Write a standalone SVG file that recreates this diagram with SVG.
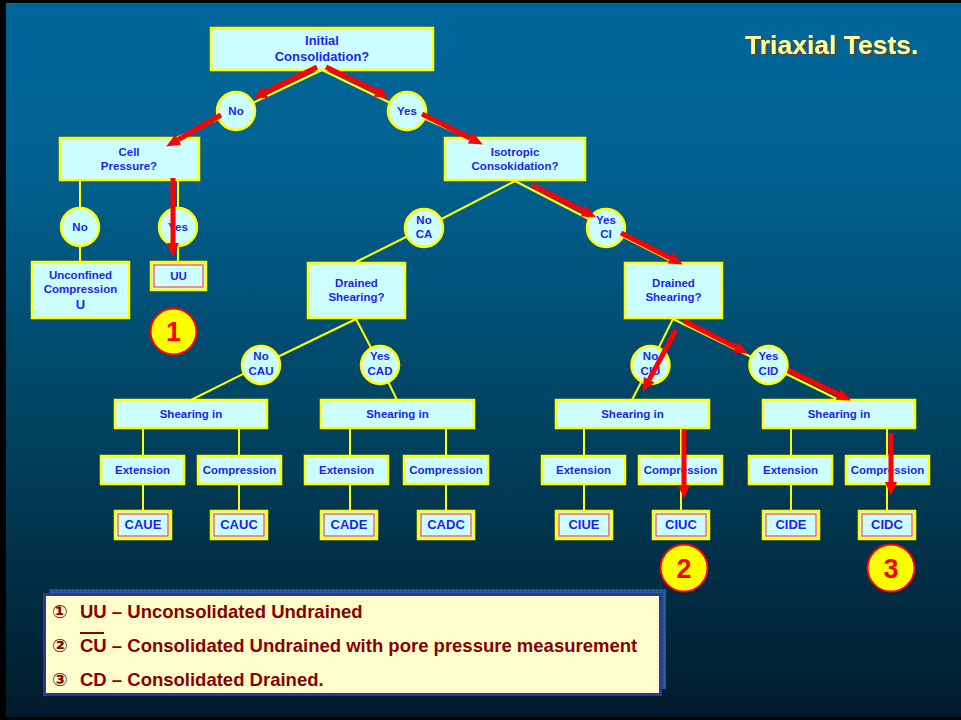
<svg xmlns="http://www.w3.org/2000/svg" width="961" height="720" viewBox="0 0 961 720">
<defs>
<linearGradient id="bg" x1="0" y1="0" x2="0" y2="1">
<stop offset="0" stop-color="#006699"/>
<stop offset="0.22" stop-color="#006292"/>
<stop offset="0.6" stop-color="#00425f"/>
<stop offset="1" stop-color="#001b2c"/>
</linearGradient>
<pattern id="grid" width="4" height="4" patternUnits="userSpaceOnUse">
<rect width="4" height="4" fill="#1f4f8f"/>
<path d="M0,0 H4 M0,0 V4" stroke="#3a6cb0" stroke-width="1"/>
</pattern>
<filter id="shadow" x="-10%" y="-30%" width="120%" height="160%">
<feDropShadow dx="2" dy="2" stdDeviation="0.6" flood-color="#4a4a4a" flood-opacity="1"/>
</filter>
<marker id="ah" markerUnits="userSpaceOnUse" viewBox="0 0 14 12" refX="0" refY="6" markerWidth="14" markerHeight="12" orient="auto">
<path d="M0,0 L14,6 L0,12 z" fill="#ff0000"/>
</marker>
</defs>
<style>
.box{fill:#ccffff;stroke:#ffff00;stroke-width:2.5}
.t{font-family:"Liberation Sans",Arial,sans-serif;font-weight:bold;font-size:11.5px;fill:#1e1ef5;text-anchor:middle}
.big{font-size:13px}
.conn line{stroke:#ffff00;stroke-width:2}
.arr line{stroke:#ff0000;stroke-width:5;marker-end:url(#ah)}
.inner{fill:none;stroke:#ff4444;stroke-width:1.2}
.num circle{fill:#ffff00;stroke:#ff0000;stroke-width:2}
.num text{font-family:"Liberation Sans",Arial,sans-serif;font-weight:bold;font-size:27px;fill:#ff0000;text-anchor:middle}
.leg{font-family:"Liberation Sans","DejaVu Sans",sans-serif;font-weight:bold;font-size:18.5px;fill:#880000}
.title{font-family:"Liberation Sans",Arial,sans-serif;font-weight:bold;font-size:26.5px;fill:#ffff99}
</style>
<rect x="0" y="0" width="961" height="720" fill="#000"/>
<rect x="6" y="3" width="955" height="714" fill="url(#bg)"/>

<g id="title">
<text class="title" x="745" y="54" filter="url(#shadow)">Triaxial Tests.</text>
</g>

<g class="conn" id="connectors">
<line x1="322" y1="70" x2="236" y2="111"/>
<line x1="322" y1="70" x2="407" y2="111"/>
<line x1="236" y1="111" x2="176" y2="138"/>
<line x1="407" y1="111" x2="469" y2="138"/>
<line x1="80" y1="181" x2="80" y2="262"/>
<line x1="178" y1="181" x2="178" y2="262"/>
<line x1="515" y1="181" x2="424" y2="228"/>
<line x1="515" y1="181" x2="606" y2="228"/>
<line x1="424" y1="228" x2="356" y2="262"/>
<line x1="606" y1="228" x2="673" y2="262"/>
<line x1="356" y1="319" x2="261" y2="365"/>
<line x1="356" y1="319" x2="380" y2="365"/>
<line x1="673" y1="319" x2="650" y2="365"/>
<line x1="673" y1="319" x2="768" y2="365"/>
<line x1="261" y1="365" x2="191" y2="400"/>
<line x1="380" y1="365" x2="397" y2="400"/>
<line x1="650" y1="365" x2="632" y2="400"/>
<line x1="768" y1="365" x2="839" y2="400"/>
<line x1="143" y1="429" x2="143" y2="511"/>
<line x1="239" y1="429" x2="239" y2="511"/>
<line x1="350" y1="429" x2="350" y2="511"/>
<line x1="446" y1="429" x2="446" y2="511"/>
<line x1="584" y1="429" x2="584" y2="511"/>
<line x1="681" y1="429" x2="681" y2="511"/>
<line x1="791" y1="429" x2="791" y2="511"/>
<line x1="887" y1="429" x2="887" y2="511"/>
</g>

<g id="n-initial"><rect class="box" x="211" y="28" width="222" height="42"/>
<text class="t big" x="322" y="45">Initial</text><text class="t big" x="322" y="61">Consolidation?</text></g>
<g id="c-no1"><circle class="box" cx="236" cy="111" r="19"/><text class="t" x="236" y="115">No</text></g>
<g id="c-yes1"><circle class="box" cx="407" cy="111" r="19"/><text class="t" x="407" y="115">Yes</text></g>
<g id="n-cell"><rect class="box" x="60" y="138" width="139" height="42"/>
<text class="t" x="129" y="156">Cell</text><text class="t" x="129" y="170">Pressure?</text></g>
<g id="n-iso"><rect class="box" x="445" y="138" width="140" height="42"/>
<text class="t" x="515" y="156">Isotropic</text><text class="t" x="515" y="170">Consokidation?</text></g>
<g id="c-no2"><circle class="box" cx="80" cy="227" r="19"/><text class="t" x="80" y="231">No</text></g>
<g id="c-yes2"><circle class="box" cx="178" cy="227" r="19"/><text class="t" x="178" y="231">Yes</text></g>
<g id="n-unconf"><rect class="box" x="32" y="262" width="97" height="56"/>
<text class="t" x="80.5" y="279">Unconfined</text><text class="t" x="80.5" y="293">Compression</text><text class="t big" x="80.5" y="308.5">U</text></g>
<g id="n-uu"><rect class="box" x="151" y="262" width="55" height="28"/><rect class="inner" x="154" y="265" width="49" height="22"/>
<text class="t" x="178.5" y="280">UU</text></g>
<g id="c-noca"><circle class="box" cx="424" cy="228" r="19"/><text class="t" x="424" y="224">No</text><text class="t" x="424" y="238">CA</text></g>
<g id="c-yesci"><circle class="box" cx="606" cy="228" r="19"/><text class="t" x="606" y="224">Yes</text><text class="t" x="606" y="238">CI</text></g>
<g id="n-ds1"><rect class="box" x="308" y="263" width="97" height="55"/>
<text class="t" x="356.5" y="287">Drained</text><text class="t" x="356.5" y="301">Shearing?</text></g>
<g id="n-ds2"><rect class="box" x="625" y="263" width="97" height="55"/>
<text class="t" x="673.5" y="287">Drained</text><text class="t" x="673.5" y="301">Shearing?</text></g>
<g id="c-nocau"><circle class="box" cx="261" cy="365" r="19"/><text class="t" x="261" y="360">No</text><text class="t" x="261" y="375">CAU</text></g>
<g id="c-yescad"><circle class="box" cx="380" cy="365" r="19"/><text class="t" x="380" y="360">Yes</text><text class="t" x="380" y="375">CAD</text></g>
<g id="c-nociu"><circle class="box" cx="650.5" cy="365" r="19"/><text class="t" x="650.5" y="360">No</text><text class="t" x="650.5" y="375">CIU</text></g>
<g id="c-yescid"><circle class="box" cx="768.5" cy="365" r="19"/><text class="t" x="768.5" y="360">Yes</text><text class="t" x="768.5" y="375">CID</text></g>

<g id="n-sh1"><rect class="box" x="115" y="400" width="152" height="28"/><text class="t" x="191" y="418">Shearing in</text></g>
<g id="n-sh2"><rect class="box" x="321" y="400" width="153" height="28"/><text class="t" x="397.5" y="418">Shearing in</text></g>
<g id="n-sh3"><rect class="box" x="556" y="400" width="153" height="28"/><text class="t" x="632.5" y="418">Shearing in</text></g>
<g id="n-sh4"><rect class="box" x="763" y="400" width="152" height="28"/><text class="t" x="839" y="418">Shearing in</text></g>

<g id="n-ext1"><rect class="box" x="101" y="456" width="83" height="28"/><text class="t" x="142.5" y="474">Extension</text></g>
<g id="n-comp1"><rect class="box" x="198" y="456" width="83" height="28"/><text class="t" x="239.5" y="474">Compression</text></g>
<g id="n-ext2"><rect class="box" x="305" y="456" width="83" height="28"/><text class="t" x="346.5" y="474">Extension</text></g>
<g id="n-comp2"><rect class="box" x="404" y="456" width="84" height="28"/><text class="t" x="446" y="474">Compression</text></g>
<g id="n-ext3"><rect class="box" x="542" y="456" width="83" height="28"/><text class="t" x="583.5" y="474">Extension</text></g>
<g id="n-comp3"><rect class="box" x="639" y="456" width="83" height="28"/><text class="t" x="680.5" y="474">Compression</text></g>
<g id="n-ext4"><rect class="box" x="749" y="456" width="83" height="28"/><text class="t" x="790.5" y="474">Extension</text></g>
<g id="n-comp4"><rect class="box" x="846" y="456" width="83" height="28"/><text class="t" x="887.5" y="474">Compression</text></g>

<g id="r-caue"><rect class="box" x="115" y="511" width="56" height="28"/><rect class="inner" x="118" y="514" width="50" height="22"/><text class="t big" x="143" y="529">CAUE</text></g>
<g id="r-cauc"><rect class="box" x="211" y="511" width="56" height="28"/><rect class="inner" x="214" y="514" width="50" height="22"/><text class="t big" x="239" y="529">CAUC</text></g>
<g id="r-cade"><rect class="box" x="321" y="511" width="56" height="28"/><rect class="inner" x="324" y="514" width="50" height="22"/><text class="t big" x="349" y="529">CADE</text></g>
<g id="r-cadc"><rect class="box" x="418" y="511" width="56" height="28"/><rect class="inner" x="421" y="514" width="50" height="22"/><text class="t big" x="446" y="529">CADC</text></g>
<g id="r-ciue"><rect class="box" x="556" y="511" width="56" height="28"/><rect class="inner" x="559" y="514" width="50" height="22"/><text class="t big" x="584" y="529">CIUE</text></g>
<g id="r-ciuc"><rect class="box" x="653" y="511" width="56" height="28"/><rect class="inner" x="656" y="514" width="50" height="22"/><text class="t big" x="681" y="529">CIUC</text></g>
<g id="r-cide"><rect class="box" x="763" y="511" width="56" height="28"/><rect class="inner" x="766" y="514" width="50" height="22"/><text class="t big" x="791" y="529">CIDE</text></g>
<g id="r-cidc"><rect class="box" x="859" y="511" width="56" height="28"/><rect class="inner" x="862" y="514" width="50" height="22"/><text class="t big" x="887" y="529">CIDC</text></g>

<g class="num" id="m1"><circle cx="173.5" cy="331.5" r="23"/><text x="173.5" y="341">1</text></g>
<g class="num" id="m2"><circle cx="684" cy="568" r="23.5"/><text x="684" y="578">2</text></g>
<g class="num" id="m3"><circle cx="891" cy="568" r="23.5"/><text x="891" y="578">3</text></g>

<g class="arr" id="path-arrows">
<line x1="317" y1="67" x2="265.7" y2="92.3"/>
<line x1="326" y1="67" x2="376.3" y2="91.3"/>
<line x1="221" y1="115" x2="178.3" y2="139.5"/>
<line x1="422" y1="114" x2="470.4" y2="138.2"/>
<line x1="173" y1="178" x2="173" y2="243"/>
<line x1="532" y1="185" x2="583.5" y2="211"/>
<line x1="621" y1="233" x2="670.4" y2="258.1"/>
<line x1="676" y1="330" x2="649.2" y2="379.6"/>
<line x1="684" y1="321" x2="735.4" y2="347.1"/>
<line x1="788" y1="370" x2="838.3" y2="394.3"/>
<line x1="684" y1="429" x2="684" y2="485"/>
<line x1="891" y1="433" x2="891" y2="482"/>
</g>

<g id="legend">
<rect x="49" y="589" width="617" height="100" fill="url(#grid)"/>
<rect x="44.5" y="594.5" width="616" height="100" fill="#ffffcc" stroke="#333399" stroke-width="3"/>
<text class="leg" y="618"><tspan x="52">①</tspan><tspan x="80">UU – Unconsolidated Undrained</tspan></text>
<text class="leg" y="652"><tspan x="52">②</tspan><tspan x="80">CU – Consolidated Undrained with pore pressure measurement</tspan></text>
<line x1="80" y1="633" x2="104" y2="633" stroke="#880000" stroke-width="2"/>
<text class="leg" y="686"><tspan x="52">③</tspan><tspan x="80">CD – Consolidated Drained.</tspan></text>
</g>
</svg>
